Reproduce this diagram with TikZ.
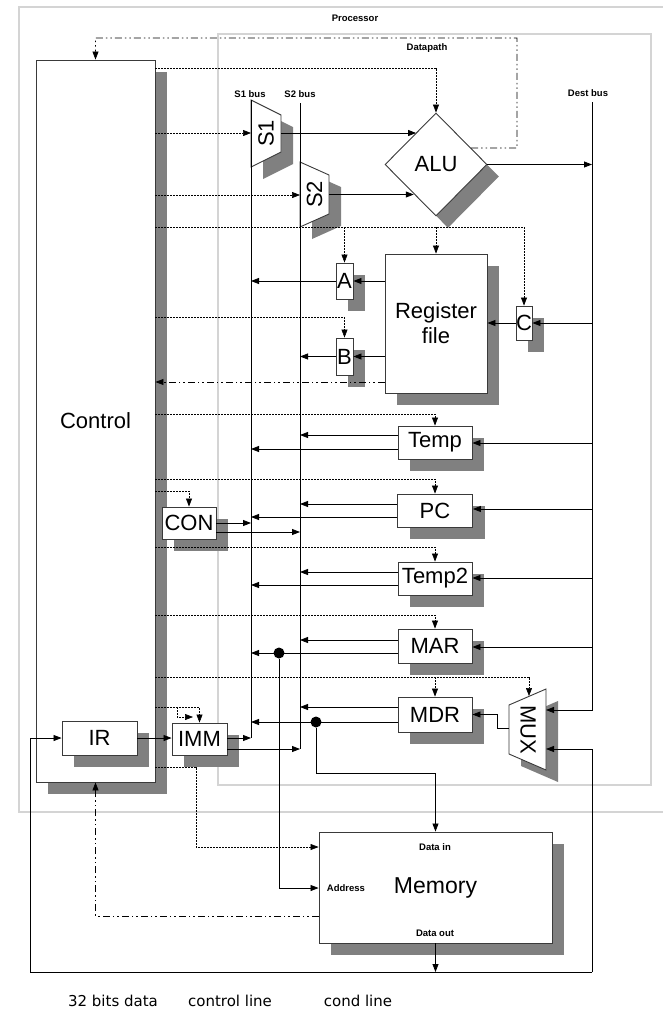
\documentclass[tikz,border=0pt]{standalone}
\usepackage{fontspec}
\setmainfont{Liberation Sans}
\newfontfamily\legendfont{DejaVu Sans}
\usetikzlibrary{arrows.meta,shapes.geometric,shadows,calc}
\definecolor{shadowgray}{HTML}{808080}
\definecolor{framegray}{HTML}{D4D4D4}
\definecolor{boxline}{HTML}{3A3A3A}
\begin{document}
\begin{tikzpicture}[x=1pt,y=-1pt,
  big/.style={font=\fontsize{22}{25}\selectfont},
  small/.style={font=\fontsize{9.5}{11}\selectfont\bfseries, inner sep=0pt},
  legend/.style={font=\legendfont\fontsize{15}{17}\selectfont, inner sep=0pt},
  reg/.style={draw=boxline, line width=0.9pt, fill=white, inner sep=0pt, big,
    drop shadow={fill=shadowgray, opacity=1, shadow xshift=12pt, shadow yshift=-12pt}},
  muxline/.style={draw=boxline, line width=0.9pt, fill=white},
  dl/.style={draw=black, line width=0.8pt},
  tip/.style={-{Triangle[length=8pt,width=6pt]}},
  da/.style={dl, tip},
  cl/.style={draw=black, line width=0.6pt, dash pattern=on 2pt off 1pt},
  ca/.style={cl, tip},
  kl/.style={draw=black, line width=0.7pt, dash pattern=on 7pt off 3pt on 1.5pt off 3pt on 1.5pt off 3pt},
  ka/.style={kl, tip},
  dot/.style={circle, fill=black, inner sep=0pt, minimum size=11pt}
]
\useasboundingbox (0,0) rectangle (663,1015);
% frames
\draw[framegray, line width=1.2pt] (19,7) rectangle (670,812);
\draw[framegray, line width=1.2pt] (218,34) rectangle (651,785);
\node[small] (lproc) at (355,18) {Processor};
\node[small] (ldp) at (427,48) {Datapath};

% mux shadows and bodies
\fill[shadowgray, shift={(12,12)}] (251,100)--(281,115)--(281,152)--(251,167)--cycle;
\fill[shadowgray, shift={(12,12)}] (300,162)--(329,175)--(329,214)--(300,227)--cycle;
\fill[shadowgray, shift={(12,12)}] (509,705)--(546,689)--(546,770)--(509,754)--cycle;
\draw[muxline] (251,100)--(281,115)--(281,152)--(251,167)--cycle;
\draw[muxline] (300,162)--(329,175)--(329,214)--(300,227)--cycle;
\draw[muxline] (509,705)--(546,689)--(546,770)--(509,754)--cycle;
\node[big, rotate=90, inner sep=0pt] (s1) at (266,133.5) {S1};
\node[big, rotate=90, inner sep=0pt] (s2) at (314.5,194.5) {S2};
\node[big, rotate=-90, inner sep=0pt] (mux) at (528,729.5) {MUX};
\coordinate (s1out) at (281,133);
\coordinate (s2out) at (329,194.5);
\coordinate (muxin1) at (546,710);
\coordinate (muxin2) at (546,749);
\coordinate (muxout) at (509,728);
\coordinate (muxtop) at (529,696);

% boxes
\node[reg, minimum width=119pt, minimum height=722pt] (ctrl) at (95.5,421) {Control};
\node[reg, minimum width=75pt, minimum height=34pt] (ir) at (99.5,738) {IR};
\node[reg, minimum width=55pt, minimum height=32pt] (imm) at (199.5,739) {IMM};
\node[reg, minimum width=54pt, minimum height=32pt] (con) at (189,523) {CON};
\node[reg, diamond, minimum width=102pt, minimum height=103pt] (alu) at (436,164.5) {ALU};
\node[reg, minimum width=102pt, minimum height=139pt, align=center] (regf) at (436,323.5) {Register\\file};
\node[reg, minimum width=17pt, minimum height=36pt] (rA) at (344.5,281) {A};
\node[reg, minimum width=17pt, minimum height=37pt] (rB) at (344.5,356.5) {B};
\node[reg, minimum width=16pt, minimum height=34pt] (rC) at (524,323) {C};
\node[reg, minimum width=74pt, minimum height=33pt] (temp) at (435,442.5) {Temp};
\node[reg, minimum width=75pt, minimum height=33pt] (pc) at (435,510.5) {PC};
\node[reg, minimum width=74pt, minimum height=33pt] (temp2) at (435,578.5) {Temp2};
\node[reg, minimum width=74pt, minimum height=34pt] (mar) at (435,646) {MAR};
\node[reg, minimum width=74pt, minimum height=35pt] (mdr) at (435,714.5) {MDR};
\node[reg, minimum width=233pt, minimum height=111pt, font=\fontsize{23}{26}\selectfont] (mem) at (435.5,887.5) {Memory};
\node[small] (ldin) at (435,847) {Data in};
\node[small] (ladr) at (346,888) {Address};
\node[small] (ldout) at (435,933) {Data out};

% buses
\coordinate (s1top) at (251,100);
\coordinate (s1bot) at (251,738);
\coordinate (s2top) at (300,103);
\coordinate (s2bot) at (300,749);
\coordinate (dtop) at (592,102);
\node[small] (ls1) at (250,94) {S1 bus};
\node[small] (ls2) at (300,94) {S2 bus};
\node[small] (ldest) at (588,93) {Dest bus};
\draw[dl] (s1top) -- (s1bot);
\draw[dl] (s2top) -- (s2bot);
\draw[da] (dtop) |- (muxin1);

% control lines
\draw[ca] (ctrl.east |- 0,68) -| (alu.north);
\draw[ca] (ctrl.east |- 0,133) -- (s1top |- 0,133);
\draw[ca] (ctrl.east |- 0,195) -- (s2top |- 0,195);
\draw[ca] (ctrl.east |- 0,227) -| (rC.north);
\draw[ca] (rA.north |- 0,227) -- (rA.north);
\draw[ca] (regf.north |- 0,227) -- (regf.north);
\draw[ca] (ctrl.east |- 0,317) -| (rB.north);
\draw[ca] (ctrl.east |- 0,414) -| (temp.north);
\draw[ca] (ctrl.east |- 0,479) -| (pc.north);
\draw[ca] (ctrl.east |- 0,491) -| (con.north);
\draw[ca] (ctrl.east |- 0,547) -| (temp2.north);
\draw[ca] (ctrl.east |- 0,615) -| (mar.north);
\draw[ca] (ctrl.east |- 0,677) -| (muxtop);
\draw[ca] (mdr.north |- 0,677) -- (mdr.north);
\draw[ca] (ctrl.east |- 0,707) -| (imm.north);
\coordinate (immhook) at (177,707);
\draw[ca] (immhook) -- (177,717) -- (193,717);
\coordinate (memctl) at (196,767);
\draw[ca] (ctrl.east |- memctl) -- (memctl) |- (mem.west |- 0,847);

% cond lines
\coordinate (k1) at (517,148);
\coordinate (k2) at (517,38);
\draw[ka] (alu.25) -- (k1) -- (k2) -| (ctrl.north);
\draw[ka] (regf.west |- 0,382) -- (ctrl.east |- 0,382);
\draw[ka] (mem.west |- 0,916) -| (ctrl.south);

% data lines
\draw[da] (s1out) -- (s1out -| alu.122);
\draw[da] (s2out) -- (s2out -| alu.233);
\draw[da] (alu.east) -- (dtop |- alu.east);
\draw[da] (regf.west |- rA.east) -- (rA.east);
\draw[da] (rA.west) -- (s1top |- rA.west);
\draw[da] (regf.west |- rB.east) -- (rB.east);
\draw[da] (rB.west) -- (s2top |- rB.west);
\draw[da] (dtop |- rC.east) -- (rC.east);
\draw[da] (rC.west) -- (regf.east |- rC.west);

\draw[da] (temp.west |- 0,435) -- (s2top |- 0,435);
\draw[da] (temp.west |- 0,449) -- (s1top |- 0,449);
\draw[da] (dtop |- 0,443) -- (temp.east |- 0,443);
\draw[da] (pc.west |- 0,504) -- (s2top |- 0,504);
\draw[da] (pc.west |- 0,517) -- (s1top |- 0,517);
\draw[da] (dtop |- 0,509) -- (pc.east |- 0,509);
\draw[da] (temp2.west |- 0,572) -- (s2top |- 0,572);
\draw[da] (temp2.west |- 0,585) -- (s1top |- 0,585);
\draw[da] (dtop |- 0,578) -- (temp2.east |- 0,578);
\node[dot] (dmar) at (279,653) {};
\draw[da] (mar.west |- 0,640) -- (s2top |- 0,640);
\draw[da] (mar.west |- dmar) -- (s1top |- dmar);
\draw[da] (dtop |- 0,647) -- (mar.east |- 0,647);
\node[dot] (dmdr) at (316,722) {};
\draw[da] (mdr.west |- 0,707) -- (s2top |- 0,707);
\draw[da] (mdr.west |- dmdr) -- (s1top |- dmdr);
\draw[da] (muxout) -- (497,728) |- (mdr.east);
\draw[da] (con.east |- 0,523) -- (s1top |- 0,523);
\draw[da] (con.east |- 0,532) -- (s2top |- 0,532);
\draw[da] (imm.east |- s1bot) -- (s1bot);
\draw[da] (imm.east |- s2bot) -- (s2bot);
\draw[da] (ir.east) -- (imm.west |- ir.east);
\draw[da] (dmar) |- (mem.west |- 0,888);
\draw[da] (dmdr) -- (dmdr |- 0,773) -| (mem.north);
\coordinate (memout) at (435.5,972);
\coordinate (loopL) at (30,972);
\coordinate (loopR) at (592,972);
\draw[da] (mem.south) -- (memout);
\draw[da] (loopR) -- (loopL) |- (ir.west);
\draw[da] (loopR) |- (muxin2);

% legend
\node[legend] (lg1) at (113,1001) {32 bits data};
\node[legend] (lg2) at (230,1001) {control line};
\node[legend] (lg3) at (358,1001) {cond line};
\end{tikzpicture}
\end{document}
